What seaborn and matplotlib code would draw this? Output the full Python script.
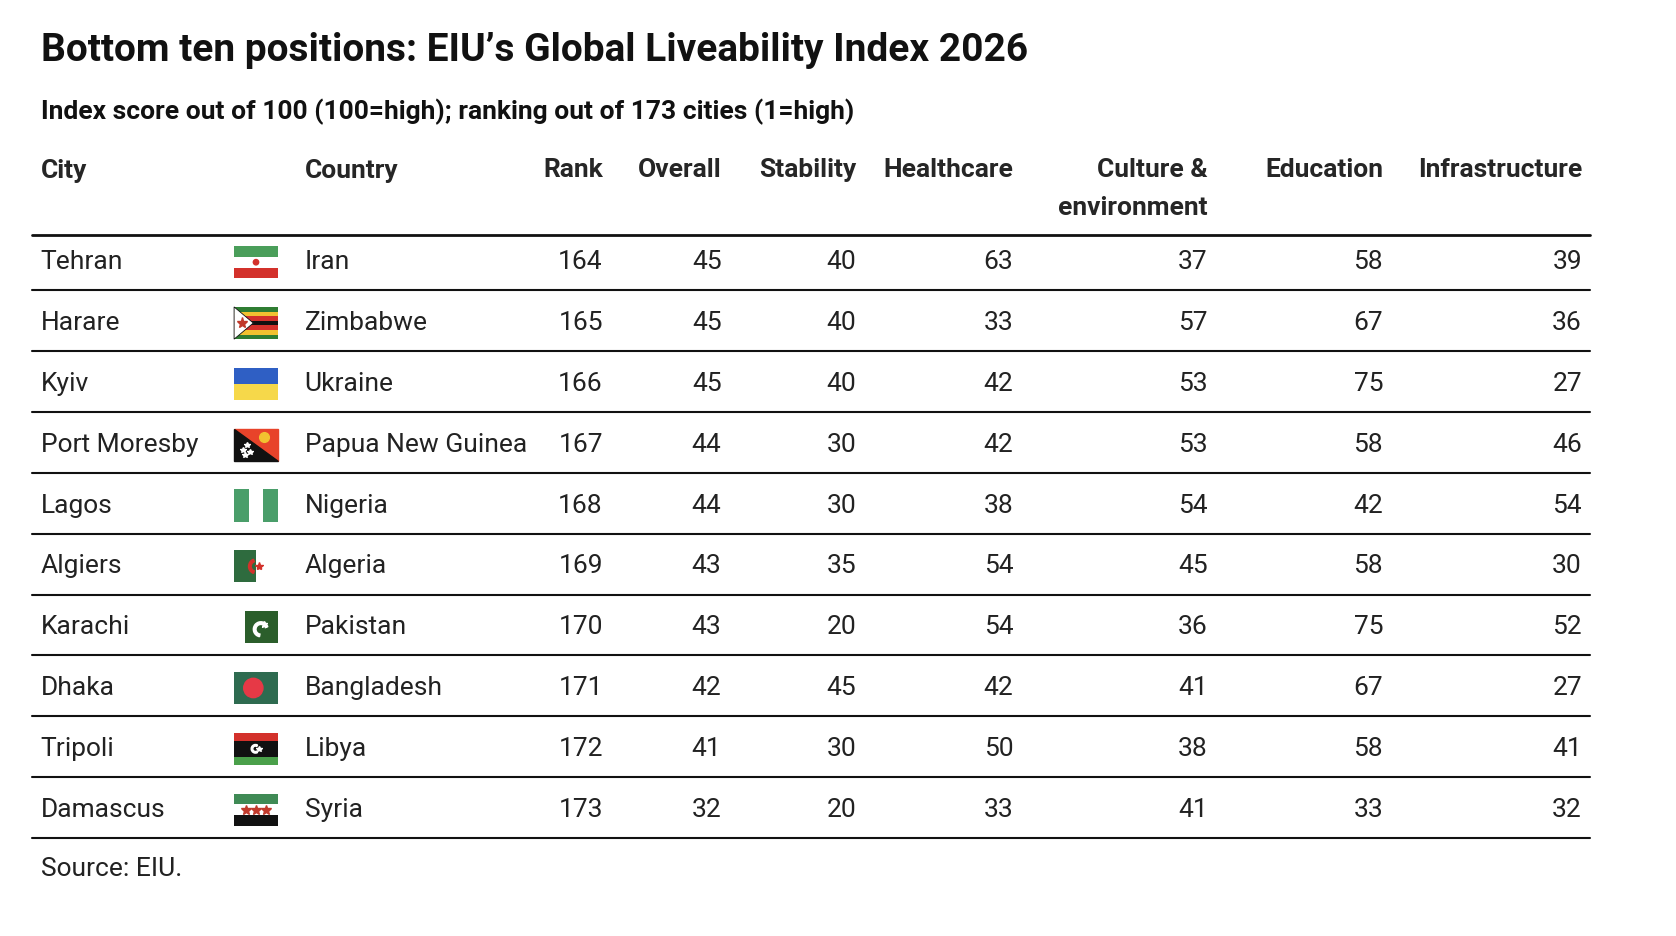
import matplotlib.pyplot as plt
import matplotlib.patches as mpatches
import seaborn as sns
import matplotlib.font_manager as fm

cities = ["Tehran", "Harare", "Kyiv", "Port Moresby", "Lagos", "Algiers", "Karachi", "Dhaka", "Tripoli", "Damascus"]
countries = ["Iran", "Zimbabwe", "Ukraine", "Papua New Guinea", "Nigeria", "Algeria", "Pakistan", "Bangladesh", "Libya", "Syria"]
rank = [164, 165, 166, 167, 168, 169, 170, 171, 172, 173]
overall = [45, 45, 45, 44, 44, 43, 43, 42, 41, 32]
stability = [40, 40, 40, 30, 30, 35, 20, 45, 30, 20]
healthcare = [63, 33, 42, 42, 38, 54, 54, 42, 50, 33]
culture = [37, 57, 53, 53, 54, 45, 36, 41, 38, 41]
education = [58, 67, 75, 58, 42, 58, 75, 67, 58, 33]
infrastructure = [39, 36, 27, 46, 54, 30, 52, 27, 41, 32]

sns.set_theme(style="white")
names = {f.name for f in fm.fontManager.ttflist}
fam = "Liberation Sans Narrow" if "Liberation Sans Narrow" in names else "Roboto"
plt.rcParams['font.family'] = [fam, 'DejaVu Sans']

# layout measured on a scaled view of the canvas
W, H = 1568, 871
fig = plt.figure(figsize=(16.76, 9.36), dpi=100)
ax = fig.add_axes([0, 0, 1, 1])
ax.set_xlim(0, W)
ax.set_ylim(H, 0)
ax.axis("off")

ax.text(38, 47, "Bottom ten positions: EIU’s Global Liveability Index 2026", fontsize=28,
        fontweight="bold", va="center", color="#111")
ax.text(38, 104, "Index score out of 100 (100=high); ranking out of 173 cities (1=high)", fontsize=19,
        fontweight="bold", va="center", color="#111")

hdr_y = 159
ax.text(38, hdr_y, "City", fontsize=19, fontweight="bold", va="center")
ax.text(285, hdr_y, "Country", fontsize=19, fontweight="bold", va="center")
num_cols = [("Rank", 564, rank), ("Overall", 675, overall), ("Stability", 801, stability),
            ("Healthcare", 948, healthcare), ("Culture &\nenvironment", 1130, culture),
            ("Education", 1294, education), ("Infrastructure", 1480, infrastructure)]
for label, xr, _ in num_cols:
    ax.text(xr, hdr_y - 12, label, fontsize=19, fontweight="bold", va="top", ha="right",
            linespacing=1.75)

row0, step = 244, 56.6
line_x = (30, 1488)
ax.plot(line_x, [219, 219], color="#111", lw=2)


def rect(x, y, w, h, c, **kw):
    ax.add_patch(mpatches.Rectangle((x, y), w, h, color=c, lw=0, **kw))


def flag(country, yc):
    x0, w, h = 219, 41, 30
    y0 = yc - h / 2
    if country == "Iran":
        rect(x0, y0, w, h / 3, "#4a9e5a"); rect(x0, y0 + 2 * h / 3, w, h / 3, "#d3312b")
        ax.add_patch(mpatches.Circle((x0 + w / 2, yc), 2.5, color="#d3312b"))
    elif country == "Zimbabwe":
        cols = ["#2f7d32", "#f2c230", "#d3312b", "#111", "#d3312b", "#f2c230", "#2f7d32"]
        for i, c in enumerate(cols):
            rect(x0, y0 + i * h / 7, w, h / 7, c)
        ax.add_patch(mpatches.Polygon([(x0, y0), (x0 + 18, yc), (x0, y0 + h)], color="white", ec="#111", lw=0.6))
        ax.plot(x0 + 7, yc, marker="*", color="#c0392b", ms=8)
    elif country == "Ukraine":
        rect(x0, y0, w, h / 2, "#2f5fc4"); rect(x0, yc, w, h / 2, "#f6d84a")
    elif country == "Papua New Guinea":
        ax.add_patch(mpatches.Polygon([(x0, y0), (x0 + w, y0), (x0 + w, y0 + h)], color="#e8432a"))
        ax.add_patch(mpatches.Polygon([(x0, y0), (x0, y0 + h), (x0 + w, y0 + h)], color="#111"))
        ax.plot(x0 + 28, y0 + 8, marker="o", color="#f2c230", ms=7)
        for dx, dy in [(8, 20), (12, 15), (15, 22), (10, 25)]:
            ax.plot(x0 + dx, y0 + dy, marker="*", color="white", ms=4)
    elif country == "Nigeria":
        rect(x0, y0, w / 3, h, "#4a9e6a"); rect(x0 + 2 * w / 3, y0, w / 3, h, "#4a9e6a")
    elif country == "Algeria":
        rect(x0, y0, w / 2, h, "#2e6b3e")
        ax.add_patch(mpatches.Wedge((x0 + w / 2, yc), 7, 110, 250, width=2.5, color="#d3312b"))
        ax.plot(x0 + w / 2 + 3, yc, marker="*", color="#d3312b", ms=6)
    elif country == "Pakistan":
        rect(x0 + w / 4, y0, 3 * w / 4, h, "#2b5e2b")
        ax.add_patch(mpatches.Wedge((x0 + 25, yc + 2), 7, 100, 340, width=2.5, color="white"))
        ax.plot(x0 + 28, yc - 3, marker="*", color="white", ms=5)
    elif country == "Bangladesh":
        rect(x0, y0, w, h, "#2e6b50")
        ax.add_patch(mpatches.Circle((x0 + 18, yc), 9, color="#e63946"))
    elif country == "Libya":
        rect(x0, y0, w, h / 4, "#d3312b"); rect(x0, y0 + h / 4, w, h / 2, "#111")
        rect(x0, y0 + 3 * h / 4, w, h / 4, "#4aa04a")
        ax.add_patch(mpatches.Wedge((x0 + 20, yc), 4, 60, 300, width=1.5, color="white"))
        ax.plot(x0 + 23, yc, marker="*", color="white", ms=4)
    elif country == "Syria":
        rect(x0, y0, w, h / 3, "#3f8a55"); rect(x0, y0 + 2 * h / 3, w, h / 3, "#111")
        for dx in (11, 20.5, 30):
            ax.plot(x0 + dx, yc, marker="*", color="#c0392b", ms=7)


for i in range(len(cities)):
    y = row0 + i * step
    ax.text(38, y, cities[i], fontsize=19, va="center", color="#222")
    flag(countries[i], y)
    ax.text(285, y, countries[i], fontsize=19, va="center", color="#222")
    for _, xr, vals in num_cols:
        ax.text(xr, y, str(vals[i]), fontsize=19, va="center", ha="right", color="#222")
    ly = row0 + (i + 0.5) * step - 2
    ax.plot(line_x, [ly, ly], color="#111", lw=1.5)

ax.text(38, 809, "Source: EIU.", fontsize=19, va="center", color="#222")

fig.savefig("out.png", dpi=100)
